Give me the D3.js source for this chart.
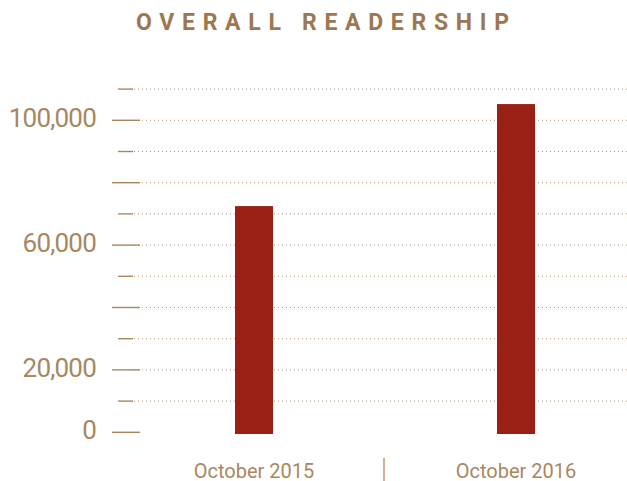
<!DOCTYPE html>
<head>
    <meta charset="utf-8">
</head>

<style type="text/css">
    body {
        margin: 0;
        background: #fff;
    }

    .title {
        font: bold 23px Roboto, sans-serif;
        fill: #9c7750;
    }

    .ylabel {
        font: 26px Roboto, sans-serif;
        letter-spacing: -0.8px;
        fill: #a8875f;
    }

    .xlabel {
        font: 20px Roboto, sans-serif;
        fill: #a8875f;
    }

    .grid-line {
        stroke: #b89a78;
        stroke-width: 1;
        stroke-dasharray: 1 3;
    }

    .tick-mark {
        stroke: #a8875f;
        stroke-width: 1.4;
    }

    .bar {
        fill: #9a2016;
    }

    .separator {
        stroke: #b89a78;
        stroke-width: 1.5;
    }
</style>

<body>
<svg width="627" height="481"></svg>
</body>

<script src="https://d3js.org/d3.v7.min.js"></script>

<script>

var months = ["October 2015", "October 2016"];
var readers = [72500, 105200];
var tickValues = [10000, 20000, 30000, 40000, 50000, 60000, 70000, 80000, 90000, 100000, 110000];
var majorTicks = [0, 20000, 40000, 60000, 80000, 100000];
var labelTicks = [0, 20000, 60000, 100000];

var data = months.map(function(m, i) {
    return {month: m, val: readers[i]};
});

var svg = d3.select("svg");

var yscale = d3.scaleLinear()
    .domain([0, 110000])
    .range([432.3, 89.1]);

var xscale = d3.scalePoint()
    .domain(months)
    .range([123, 647])
    .padding(0.5);

var barWidth = 38;
var fmt = d3.format(",");

// title
svg.append("text")
    .attr("class", "title")
    .attr("x", 136)
    .attr("y", 29.5)
    .attr("textLength", 373)
    .attr("lengthAdjust", "spacing")
    .text("OVERALL READERSHIP");

// dotted grid lines (none at zero)
svg.append("g").selectAll(".grid-line")
    .data(tickValues)
    .enter()
    .append("line")
    .attr("class", "grid-line")
    .attr("x1", 134)
    .attr("x2", 627)
    .attr("y1", function(d) { return yscale(d); })
    .attr("y2", function(d) { return yscale(d); });

// tick marks, long ones every 20k
var allTicks = [0].concat(tickValues);
svg.append("g").selectAll(".tick-mark")
    .data(allTicks)
    .enter()
    .append("line")
    .attr("class", "tick-mark")
    .attr("x1", function(d) { return majorTicks.indexOf(d) >= 0 ? 112 : 118; })
    .attr("x2", function(d) { return majorTicks.indexOf(d) >= 0 ? 140 : 133; })
    .attr("y1", function(d) { return yscale(d); })
    .attr("y2", function(d) { return yscale(d); });

svg.append("g").selectAll(".ylabel")
    .data(labelTicks)
    .enter()
    .append("text")
    .attr("class", "ylabel")
    .attr("text-anchor", "end")
    .attr("x", 96)
    .attr("y", function(d) { return yscale(d) + 7; })
    .text(function(d) { return fmt(d); });

// bars
svg.append("g").selectAll(".bar")
    .data(data)
    .enter()
    .append("rect")
    .attr("class", "bar")
    .attr("x", function(d) { return xscale(d.month) - barWidth / 2; })
    .attr("width", barWidth)
    .attr("y", function(d) { return yscale(d.val); })
    .attr("height", function(d) { return yscale(0) + 1.7 - yscale(d.val); });

// month labels
svg.append("g").selectAll(".xlabel")
    .data(data)
    .enter()
    .append("text")
    .attr("class", "xlabel")
    .attr("text-anchor", "middle")
    .attr("x", function(d) { return xscale(d.month); })
    .attr("y", 477.5)
    .text(function(d) { return d.month; });

// divider between the two months
var mid = (xscale(months[0]) + xscale(months[1])) / 2 - 1;
svg.append("line")
    .attr("class", "separator")
    .attr("x1", mid)
    .attr("x2", mid)
    .attr("y1", 458)
    .attr("y2", 481);

</script>
